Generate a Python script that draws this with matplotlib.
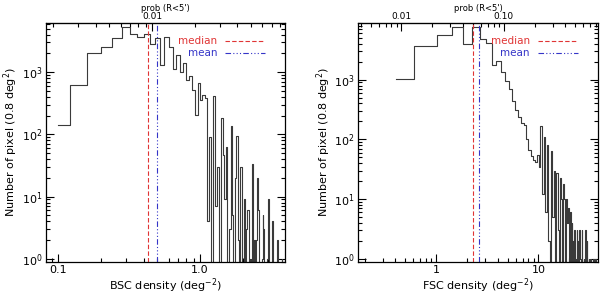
import numpy as np
import matplotlib.pyplot as plt
from matplotlib.ticker import LogLocator, NullFormatter, FixedLocator

# BSC histogram: bin centres start at 0.10, width 0.04 deg^-2
bsc_first = 0.10
bsc_width = 0.04
bsc_counts = [140, 630, 2040, 2570, 3550, 5250, 4050, 3650, 4050, 2800,
              3500, 1300, 3600, 2500, 1100, 1900, 1000, 1380, 750, 850,
              520, 205, 660, 350, 430, 380, 4, 90, 0, 410,
              7, 30, 0, 180, 47, 9, 63, 0, 3, 135,
              5, 0, 20, 94, 2, 0, 30, 0, 0, 9,
              0, 3, 6, 0, 1, 0, 33, 0, 2, 0,
              2, 20, 6, 0, 0, 0, 1, 5, 3, 0,
              0, 0, 1, 9, 0, 0, 0, 0, 0, 4,
              0, 0, 0, 0, 0, 2, 0, 0, 0, 0,
              0, 0, 1, 0, 0, 0]
bsc_median = 0.43
bsc_mean = 0.50

# FSC histogram: bin centres start at 0.41, width 0.41 deg^-2
fsc_first = 0.41
fsc_width = 0.41
fsc_counts = [1020, 3720, 5620, 7760, 3990, 7760, 4780, 4080, 1780, 2090,
              1370, 950, 690, 435, 315, 240, 190, 175, 100, 67,
              52, 45, 42, 55, 35, 165, 12, 112, 6, 80,
              2, 0, 63, 5, 30, 0, 28, 3, 0, 23,
              10, 0, 18, 10, 0, 10, 4, 7, 0, 6,
              0, 4, 2, 0, 3, 0, 1, 3, 0, 2,
              0, 3, 1, 0, 3, 0, 0, 1, 0, 3,
              0, 0, 2, 0, 0, 1, 0, 1, 0, 1,
              0, 0, 0, 1, 0, 0, 0, 1, 0, 0]
fsc_median = 2.32
fsc_mean = 2.65

# search area of a 5' radius circle in deg^2
area = np.pi * (5.0 / 60.0) ** 2

red = '#e03535'
blue = '#3535c8'
dashdot = (0, (5, 2, 1, 2, 1, 2, 1, 2))

fig = plt.figure(figsize=(6.0, 2.99), dpi=100)
ax1 = fig.add_axes([0.0762, 0.1247, 0.399, 0.7994])
ax2 = fig.add_axes([0.5972, 0.1247, 0.399, 0.7994])

panels = [
    (ax1, bsc_first, bsc_width, bsc_counts, bsc_median, bsc_mean,
     (0.0815, 3.98), (0.9, 6200), [0.1, 1.0], ['0.1', '1.0'],
     [0.01], ['0.01'], 'BSC density (deg$^{-2}$)'),
    (ax2, fsc_first, fsc_width, fsc_counts, fsc_median, fsc_mean,
     (0.174, 38.0), (0.9, 9000), [1, 10], ['1', '10'],
     [0.01, 0.1], ['0.01', '0.10'], 'FSC density (deg$^{-2}$)'),
]

for (ax, first, width, counts, med, mean, xlim, ylim, xt, xtl,
     pt, ptl, xlabel) in panels:
    counts = np.array(counts, dtype=float)
    centres = first + width * np.arange(len(counts))
    ax.set_xscale('log')
    ax.set_yscale('log', nonpositive='clip')
    ax.step(centres, counts, where='mid', color='#3a3a3a', lw=0.8)

    ax.axvline(med, color=red, lw=0.8, ls=(0, (4, 2)))
    ax.axvline(mean, color=blue, lw=0.8, ls=dashdot)

    # legend drawn IDL-style: text + short line
    ax.text(0.716, 0.922, 'median', color=red, fontsize=7.5,
            ha='right', va='center', transform=ax.transAxes)
    ax.plot([0.749, 0.916], [0.922, 0.922], color=red, lw=0.8,
            ls=(0, (4, 2)), transform=ax.transAxes)
    ax.text(0.716, 0.874, 'mean', color=blue, fontsize=7.5,
            ha='right', va='center', transform=ax.transAxes)
    ax.plot([0.749, 0.916], [0.874, 0.874], color=blue, lw=0.8,
            ls=dashdot, transform=ax.transAxes)

    ax.set_xlim(*xlim)
    ax.set_ylim(*ylim)
    ax.set_xticks(xt)
    ax.set_xticklabels(xtl)
    ax.xaxis.set_minor_formatter(NullFormatter())
    ax.yaxis.set_major_locator(FixedLocator([1, 10, 100, 1000]))
    ax.yaxis.set_minor_locator(LogLocator(base=10, subs=np.arange(2, 10)))
    ax.tick_params(which='both', direction='in', top=False, right=True,
                   labelsize=8, width=0.8, pad=2.5)
    ax.tick_params(which='major', length=6)
    ax.tick_params(which='minor', length=3)
    ax.set_xlabel(xlabel, fontsize=8, labelpad=1)
    ax.set_ylabel('Number of pixel (0.8 deg$^2$)', fontsize=8, labelpad=1)
    for s in ax.spines.values():
        s.set_linewidth(0.9)

    sec = ax.secondary_xaxis('top', functions=(lambda d: d * area,
                                               lambda p: p / area))
    sec.set_xticks(pt)
    sec.set_xticklabels(ptl)
    sec.xaxis.set_minor_formatter(NullFormatter())
    sec.tick_params(which='both', direction='in', labelsize=6.5, width=0.8,
                    pad=1)
    sec.tick_params(which='major', length=6)
    sec.tick_params(which='minor', length=3)
    sec.set_xlabel("prob (R<5')", fontsize=6, labelpad=1)

fig.savefig('out.png', dpi=100)
